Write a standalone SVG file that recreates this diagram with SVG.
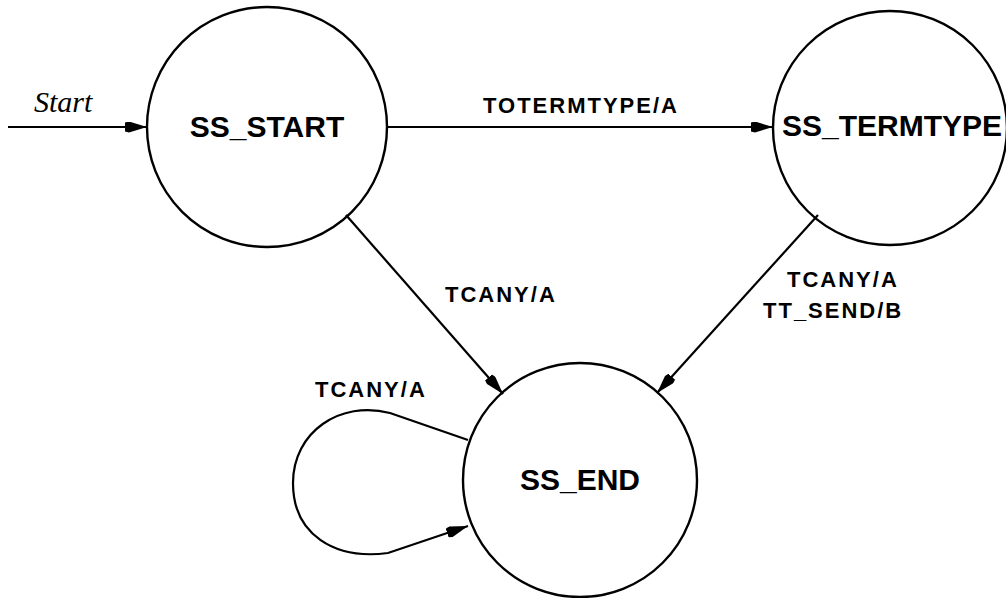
<svg xmlns="http://www.w3.org/2000/svg" width="1006" height="598" viewBox="0 0 1006 598">
<style>
.node{fill:none;stroke:#000;stroke-width:2.4}
.edge{fill:none;stroke:#000;stroke-width:2.2}
.ntext{font-family:"Liberation Sans",Arial,sans-serif;font-weight:bold;font-size:30px;fill:#000}
.etext{font-family:"Liberation Sans",Arial,sans-serif;font-weight:bold;font-size:22px;letter-spacing:2px;fill:#000}
.start{font-family:"Liberation Serif","Times New Roman",serif;font-style:italic;font-size:30px;fill:#000}
</style>
<defs>
<marker id="arr" markerUnits="userSpaceOnUse" markerWidth="24" markerHeight="12" refX="22" refY="5.5" orient="auto">
<path d="M0,1 L4,0 L22,5.5 L4,11 L0,10 z" fill="#000"/>
</marker>
</defs>
<rect width="1006" height="598" fill="#fff"/>
<g id="connectors">
<line class="edge" x1="8" y1="127" x2="147" y2="127" marker-end="url(#arr)"/>
<text class="start" x="34" y="112">Start</text>
<line class="edge" x1="388" y1="127" x2="773" y2="127" marker-end="url(#arr)"/>
<text class="etext" x="483" y="113">TOTERMTYPE/A</text>
<line class="edge" x1="346" y1="215" x2="503" y2="394" marker-end="url(#arr)"/>
<text class="etext" x="445" y="302">TCANY/A</text>
<line class="edge" x1="818" y1="215" x2="657" y2="393" marker-end="url(#arr)"/>
<text class="etext" x="787" y="287">TCANY/A</text>
<text class="etext" x="763" y="318">TT_SEND/B</text>
<path class="edge" d="M468,440 L390,413 C340,400 293,432 293,483 C293,535 335,560 388,553 L468,526" marker-end="url(#arr)"/>
<text class="etext" x="315" y="397">TCANY/A</text>
</g>
<g id="SS_START">
<circle class="node" cx="267" cy="127" r="120"/>
<text class="ntext" x="267" y="137" text-anchor="middle">SS_START</text>
</g>
<g id="SS_TERMTYPE">
<circle class="node" cx="890" cy="128" r="117"/>
<text class="ntext" x="782" y="136">SS_TERMTYPE</text>
</g>
<g id="SS_END">
<circle class="node" cx="580" cy="480" r="117"/>
<text class="ntext" x="580" y="490" text-anchor="middle">SS_END</text>
</g>
</svg>
